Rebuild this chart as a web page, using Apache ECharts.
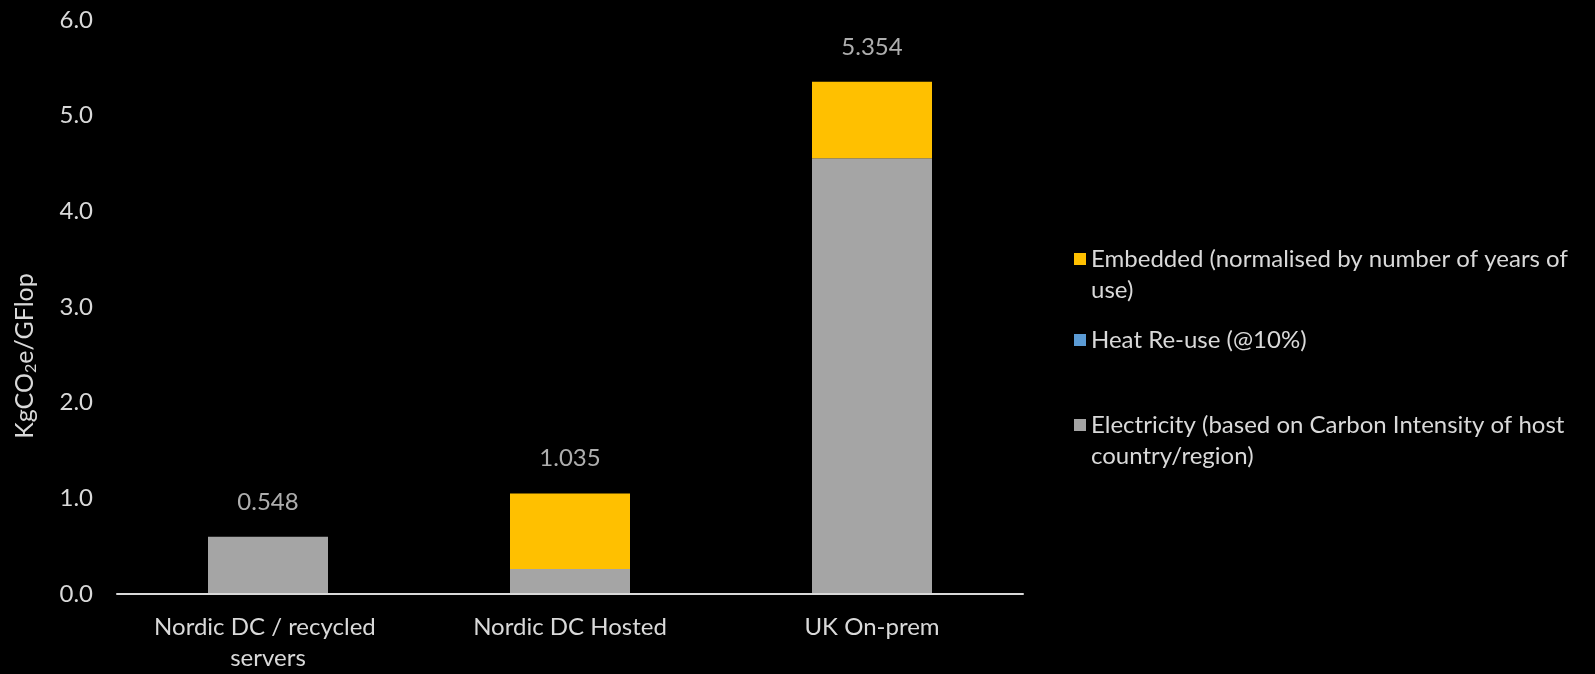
<!DOCTYPE html>
<html>
<head>
<meta charset="utf-8">
<title>KgCO2e per GFlop by hosting option</title>
<script src="https://cdn.jsdelivr.net/npm/echarts@6/dist/echarts.min.js"></script>
<style>
  html, body { margin: 0; padding: 0; background: #000; }
  #chart { width: 1595px; height: 674px; }
</style>
</head>
<body>
<div id="chart"></div>
<script>
// Hosting options compared
const categories = ['Nordic DC / recycled servers', 'Nordic DC Hosted', 'UK On-prem'];

// Emission components, KgCO2e per GFlop
const electricity = [0.598, 0.262, 4.554];
const heatReuse = [-0.050, -0.015, 0];
const embedded = [0, 0.788, 0.800];

const yTicks = [0, 1, 2, 3, 4, 5, 6];

const seriesNames = {
  embedded: 'Embedded (normalised by number of years of\nuse)',
  heat: 'Heat Re-use (@10%)',
  electricity: 'Electricity (based on Carbon Intensity of host\ncountry/region)'
};

// Net total per option, and the top of the positive part of each stack
const totals = categories.map((_, i) => electricity[i] + heatReuse[i] + embedded[i]);
const stackTops = categories.map((_, i) => electricity[i] + Math.max(0, embedded[i]));

const FONT = 'Lato';
const TEXT = '#d9d9d9';
const C_EMB = '#FFC000';
const C_HEAT = '#5B9BD5';
const C_ELEC = '#A5A5A5';
const LINE_H = 31;

const chart = echarts.init(document.getElementById('chart'), null, { renderer: 'canvas' });

// One legend block per series; wrapped entries get a leading blank line so
// the swatch sits beside the first line of text
function legendBlock(name, top, wrapped) {
  return {
    data: [name],
    orient: 'vertical',
    left: 1074,
    top: top,
    padding: 0,
    itemWidth: 12,
    itemHeight: 12,
    itemGap: 0,
    icon: 'rect',
    selectedMode: false,
    formatter: n => (wrapped ? ' \n' + n : n),
    textStyle: {
      color: TEXT,
      fontFamily: FONT,
      fontSize: 24,
      lineHeight: LINE_H
    }
  };
}

const option = {
  backgroundColor: '#000',
  textStyle: { fontFamily: FONT },
  animation: false,
  grid: { left: 117, right: 572, top: 20, bottom: 77, containLabel: false },
  legend: [
    legendBlock(seriesNames.embedded, 259 - 1.5 * LINE_H, true),
    legendBlock(seriesNames.heat, 340 - 0.5 * LINE_H, false),
    legendBlock(seriesNames.electricity, 425 - 1.5 * LINE_H, true)
  ],
  xAxis: {
    type: 'category',
    data: categories,
    z: 5,
    axisLine: { show: true, lineStyle: { color: '#d9d9d9', width: 2 } },
    axisTick: { show: false },
    axisLabel: {
      color: TEXT,
      fontFamily: FONT,
      fontSize: 24,
      lineHeight: 31,
      margin: 18,
      width: 280,
      overflow: 'break',
      interval: 0
    }
  },
  yAxis: {
    type: 'value',
    min: yTicks[0],
    max: yTicks[yTicks.length - 1],
    interval: 1,
    axisLine: { show: false },
    axisTick: { show: false },
    splitLine: { show: false },
    axisLabel: {
      color: TEXT,
      fontFamily: FONT,
      fontSize: 24,
      margin: 24,
      formatter: v => v.toFixed(1)
    }
  },
  graphic: [{
    type: 'text',
    x: 25,
    y: 356,
    rotation: Math.PI / 2,
    style: {
      text: 'KgCO{sub|2}e/GFlop',
      fill: TEXT,
      fontFamily: FONT,
      fontSize: 25,
      align: 'center',
      verticalAlign: 'middle',
      rich: {
        sub: { fontSize: 16, fill: TEXT, fontFamily: FONT, padding: [12, 0, 0, 0] }
      }
    }
  }],
  series: [
    {
      name: seriesNames.electricity,
      type: 'bar',
      stack: 'total',
      barWidth: 120,
      itemStyle: { color: C_ELEC },
      data: electricity
    },
    {
      name: seriesNames.heat,
      type: 'bar',
      stack: 'total',
      barWidth: 120,
      itemStyle: { color: C_HEAT },
      data: heatReuse
    },
    {
      name: seriesNames.embedded,
      type: 'bar',
      stack: 'total',
      barWidth: 120,
      itemStyle: { color: C_EMB },
      data: embedded
    },
    {
      // Net total written above each stack
      name: 'total',
      type: 'scatter',
      symbolSize: 0,
      silent: true,
      data: stackTops,
      label: {
        show: true,
        position: 'top',
        distance: 23,
        color: TEXT,
        fontFamily: FONT,
        fontSize: 24,
        formatter: p => totals[p.dataIndex].toFixed(3)
      }
    }
  ]
};

chart.setOption(option);
</script>
</body>
</html>
